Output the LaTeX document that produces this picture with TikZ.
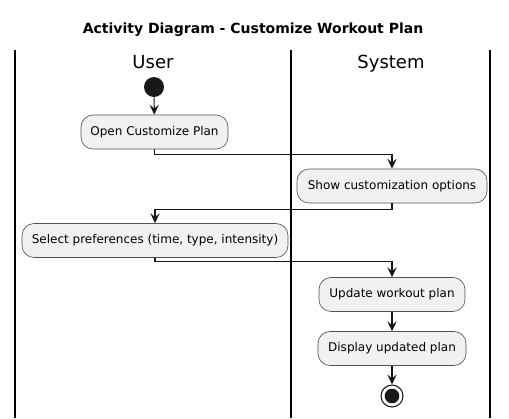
\documentclass[tikz,border=0pt]{standalone}
\usepackage{fontspec}
\setmainfont{DejaVu Sans}
\usetikzlibrary{arrows.meta}
\definecolor{boxfill}{HTML}{F1F1F1}
\definecolor{ink}{HTML}{181818}
\tikzset{
  act/.style={draw=ink!75, line width=0.5pt, fill=boxfill, rounded corners=9pt,
    minimum height=25.5pt, inner sep=0pt, font=\fontsize{9}{11}\selectfont, text=black},
  flow/.style={draw=ink, line width=0.8pt, -{Stealth[length=7.5pt,width=7pt,inset=3pt]}},
  lane/.style={draw=black, line width=1.1pt},
  lanetitle/.style={font=\fontsize{13.5}{16}\selectfont, text=black, anchor=base, inner sep=0pt},
}
\begin{document}
\begin{tikzpicture}[x=0.75pt,y=-0.75pt]
\useasboundingbox (0,0) rectangle (509,418);
\node[font=\bfseries\fontsize{10.5}{12}\selectfont, anchor=base, inner sep=0pt] (title) at (253,33) {Activity Diagram - Customize Workout Plan};
\draw[lane] (15,50) -- (15,418);
\draw[lane] (291,50) -- (291,418);
\draw[lane] (490,50) -- (490,418);
\node[lanetitle] (luser) at (153,68) {User};
\node[lanetitle] (lsys) at (391,68) {System};
\node[circle, fill=ink, minimum size=15pt, inner sep=0pt] (start) at (154,87) {};
\node[act, minimum width=110.25pt] (b1) at (154.5,132) {Open Customize Plan};
\node[act, minimum width=142.5pt] (b2) at (392,186) {Show customization options};
\node[act, minimum width=199.5pt] (b3) at (155,240.5) {Select preferences (time, type, intensity)};
\node[act, minimum width=109.5pt] (b4) at (392,294.5) {Update workout plan};
\node[act, minimum width=111pt] (b5) at (392,348.5) {Display updated plan};
\node[circle, draw=ink, line width=0.8pt, fill=white, minimum size=16.5pt, inner sep=0pt] (endo) at (392,396) {};
\node[circle, fill=ink, minimum size=11pt, inner sep=0pt] (endi) at (392,396) {};
\draw[flow] (start) -- (b1);
\draw[flow] (b1.south) -- ++(0,5) -| (b2.north);
\draw[flow] (b2.south) -- ++(0,6) -| (b3.north);
\draw[flow] (b3.south) -- ++(0,4) -| (b4.north);
\draw[flow] (b4) -- (b5);
\draw[flow] (b5) -- (endo);
\end{tikzpicture}
\end{document}
